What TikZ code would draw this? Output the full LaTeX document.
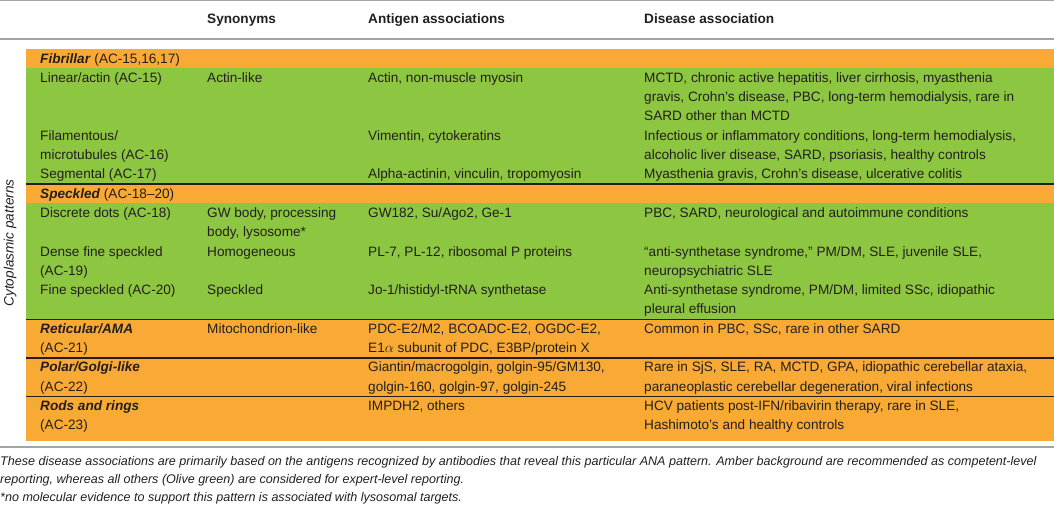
\documentclass[tikz,border=0pt]{standalone}
\usepackage{fontspec}
\setmainfont{Liberation Sans}
\definecolor{amber}{RGB}{249,170,52}
\definecolor{olive}{RGB}{141,198,64}
\definecolor{rulegray}{RGB}{165,165,165}
\definecolor{ink}{RGB}{35,31,32}
\newcommand\cat[1]{\textbf{\textit{#1}}}
\begin{document}
\begin{tikzpicture}[x=1pt,y=-1pt,
  cell/.style={anchor=north west, inner sep=0pt, align=left, text=ink,
    font=\fontsize{13.6}{19.3}\selectfont},
  head/.style={anchor=north west, inner sep=0pt, text=ink,
    font=\fontsize{13.6}{19.3}\selectfont\bfseries},
  seprule/.style={line width=1.4pt, ink},
  grayrule/.style={line width=1.2pt, rulegray},
  note/.style={anchor=base west, inner sep=0pt, text=ink,
    font=\fontsize{12.55}{18}\selectfont\itshape}]
\useasboundingbox (0,0) rectangle (1054,511);
% bands
\fill[amber] (26,49) rectangle (1054,68.3);
\fill[olive] (26,68.3) rectangle (1054,184.1);
\fill[amber] (26,184.1) rectangle (1054,203.4);
\fill[olive] (26,203.4) rectangle (1054,319.2);
\fill[amber] (26,319.2) rectangle (1054,441);
% rules
\draw[grayrule] (0,0.6) -- (1054,0.6);
\draw[grayrule] (0,39) -- (1054,39);
\draw[grayrule] (0,447) -- (1054,447);
\foreach \yy in {184.1,319.2,357.8,396.4}
  \draw[seprule] (26,\yy) -- (1054,\yy);
% header
\node[head] (h2) at (207,9.5) {\strut Synonyms};
\node[head] (h3) at (368,9.5) {\strut Antigen associations};
\node[head] (h4) at (644,9.5) {\strut Disease association};
% side label
\node[rotate=90, inner sep=0pt, text=ink, font=\fontsize{13.6}{16}\selectfont\itshape] (side) at (10,243) {Cytoplasmic patterns};
% Fibrillar
\node[cell] (fib) at (40,49.3) {\strut\cat{Fibrillar} (AC-15,16,17)};
\node[cell] (lin1) at (40,68.6) {\strut Linear/actin (AC-15)};
\node[cell] (lin2) at (207,68.6) {\strut Actin-like};
\node[cell] (lin3) at (368,68.6) {\strut Actin, non-muscle myosin};
\node[cell] (lin4) at (644,68.6) {\strut MCTD, chronic active hepatitis, liver cirrhosis, myasthenia\\gravis, Crohn’s disease, PBC, long-term hemodialysis, rare in\\SARD other than MCTD};
\node[cell] (fil1) at (40,126.5) {\strut Filamentous/\\microtubules (AC-16)};
\node[cell] (fil3) at (368,126.5) {\strut Vimentin, cytokeratins};
\node[cell] (fil4) at (644,126.5) {\strut Infectious or inflammatory conditions, long-term hemodialysis,\\alcoholic liver disease, SARD, psoriasis, healthy controls};
\node[cell] (seg1) at (40,165.1) {\strut Segmental (AC-17)};
\node[cell] (seg3) at (368,165.1) {\strut Alpha-actinin, vinculin, tropomyosin};
\node[cell] (seg4) at (644,165.1) {\strut Myasthenia gravis, Crohn’s disease, ulcerative colitis};
% Speckled
\node[cell] (spe) at (40,184.4) {\strut\cat{Speckled} (AC-18–20)};
\node[cell] (dis1) at (40,203.7) {\strut Discrete dots (AC-18)};
\node[cell] (dis2) at (207,203.7) {\strut GW body, processing\\body, lysosome*};
\node[cell] (dis3) at (368,203.7) {\strut GW182, Su/Ago2, Ge-1};
\node[cell] (dis4) at (644,203.7) {\strut PBC, SARD, neurological and autoimmune conditions};
\node[cell] (den1) at (40,242.3) {\strut Dense fine speckled\\(AC-19)};
\node[cell] (den2) at (207,242.3) {\strut Homogeneous};
\node[cell] (den3) at (368,242.3) {\strut PL-7, PL-12, ribosomal P proteins};
\node[cell] (den4) at (644,242.3) {\strut “anti-synthetase syndrome,” PM/DM, SLE, juvenile SLE,\\neuropsychiatric SLE};
\node[cell] (fin1) at (40,280.9) {\strut Fine speckled (AC-20)};
\node[cell] (fin2) at (207,280.9) {\strut Speckled};
\node[cell] (fin3) at (368,280.9) {\strut Jo-1/histidyl-tRNA synthetase};
\node[cell] (fin4) at (644,280.9) {\strut Anti-synthetase syndrome, PM/DM, limited SSc, idiopathic\\pleural effusion};
% Reticular
\node[cell] (ret1) at (40,319.5) {\strut\cat{Reticular/AMA}\\(AC-21)};
\node[cell] (ret2) at (207,319.5) {\strut Mitochondrion-like};
\node[cell] (ret3) at (368,319.5) {\strut PDC-E2/M2, BCOADC-E2, OGDC-E2,\\E1$\alpha$ subunit of PDC, E3BP/protein X};
\node[cell] (ret4) at (644,319.5) {\strut Common in PBC, SSc, rare in other SARD};
% Polar
\node[cell] (pol1) at (40,358.1) {\strut\cat{Polar/Golgi-like}\\(AC-22)};
\node[cell] (pol3) at (368,358.1) {\strut Giantin/macrogolgin, golgin-95/GM130,\\golgin-160, golgin-97, golgin-245};
\node[cell] (pol4) at (644,358.1) {\strut Rare in SjS, SLE, RA, MCTD, GPA, idiopathic cerebellar ataxia,\\paraneoplastic cerebellar degeneration, viral infections};
% Rods
\node[cell] (rod1) at (40,396.7) {\strut\cat{Rods and rings}\\(AC-23)};
\node[cell] (rod3) at (368,396.7) {\strut IMPDH2, others};
\node[cell] (rod4) at (644,396.7) {\strut HCV patients post-IFN/ribavirin therapy, rare in SLE,\\Hashimoto’s and healthy controls};
% notes
\node[note] (n1) at (0,465) {These disease associations are primarily based on the antigens recognized by antibodies that reveal this particular ANA pattern. Amber background are recommended as competent-level};
\node[note] (n2) at (0,483) {reporting, whereas all others (Olive green) are considered for expert-level reporting.};
\node[note] (n3) at (0,501) {*no molecular evidence to support this pattern is associated with lysosomal targets.};
\end{tikzpicture}
\end{document}
